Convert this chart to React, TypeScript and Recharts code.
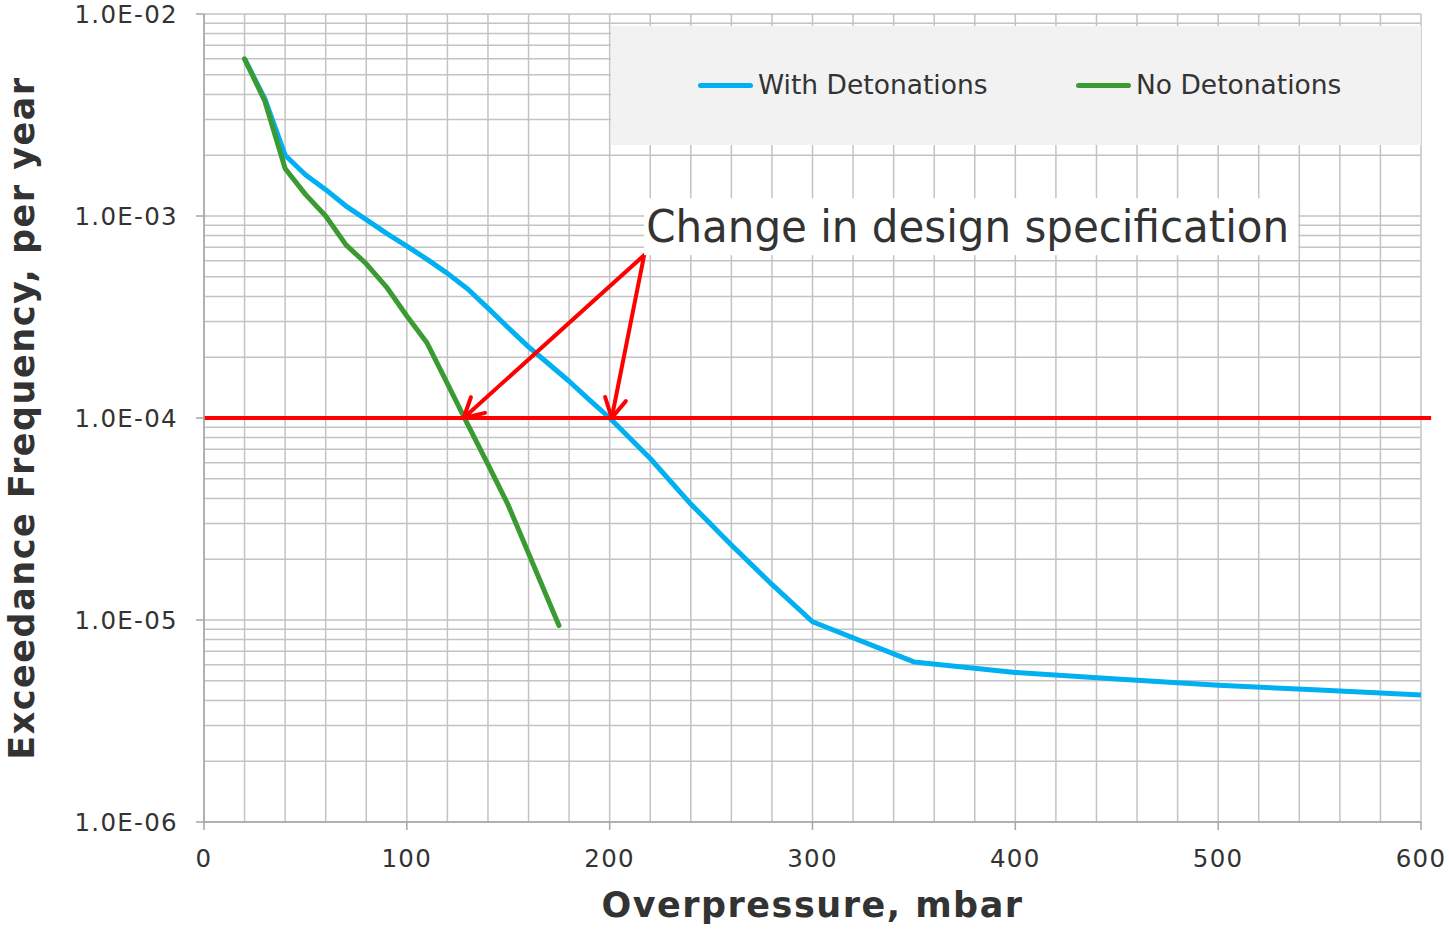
import { CartesianGrid, Legend, Line, LineChart, ReferenceDot, ReferenceLine, XAxis, YAxis } from "recharts";

// overpressure (mbar) and exceedance frequency (per year)
const pressureWith = [20, 30, 40, 50, 60, 70, 80, 90, 100, 110, 120, 130, 140, 150, 160, 170, 180, 190, 200, 220, 240, 260, 280, 300, 350, 400, 450, 500, 550, 600];
const freqWith = [6.0e-3, 3.8e-3, 2.0e-3, 1.6e-3, 1.35e-3, 1.12e-3, 9.6e-4, 8.2e-4, 7.1e-4, 6.1e-4, 5.2e-4, 4.35e-4, 3.5e-4, 2.8e-4, 2.25e-4, 1.85e-4, 1.52e-4, 1.23e-4, 1.0e-4, 6.3e-5, 3.75e-5, 2.35e-5, 1.5e-5, 9.8e-6, 6.2e-6, 5.5e-6, 5.1e-6, 4.75e-6, 4.5e-6, 4.25e-6];

const pressureNo = [20, 30, 40, 50, 60, 70, 80, 90, 100, 110, 120, 130, 140, 150, 175];
const freqNo = [6.0e-3, 3.7e-3, 1.72e-3, 1.28e-3, 1.0e-3, 7.2e-4, 5.8e-4, 4.45e-4, 3.2e-4, 2.35e-4, 1.48e-4, 9.3e-5, 5.9e-5, 3.7e-5, 9.4e-6];

const seriesNames = ["With Detonations", "No Detonations"];
const seriesColors = ["#00b0f0", "#3b9b33"];

const xTicks = [0, 100, 200, 300, 400, 500, 600];
const yTicks = [1e-6, 1e-5, 1e-4, 1e-3, 1e-2];

const designLimit = 1e-4;
const limitEnd = 605;
const calloutAt = { x: 217, y: 6.4e-4 };
const arrowTips = [128, 201];
const calloutText = "Change in design specification";

const xGrid: number[] = [];
for (let v = 0; v <= 600; v += 20) xGrid.push(v);
const yGrid: number[] = [];
for (let e = -6; e < -2; e++) for (let k = 1; k <= 9; k++) yGrid.push(Number((k * Math.pow(10, e)).toPrecision(2)));
yGrid.push(1e-2);

const withData = pressureWith.map((x, i) => ({ x, y: freqWith[i] }));
const noData = pressureNo.map((x, i) => ({ x, y: freqNo[i] }));

const TEXT = "#333333";
const AXIS = "#a6a6a6";
const FONT = "'DejaVu Sans', Verdana";

const fmtExp = (v: number) => {
  const e = Math.round(Math.log10(v));
  const m = v / Math.pow(10, e);
  const s = e < 0 ? "-" : "+";
  return `${m.toFixed(1)}E${s}${String(Math.abs(e)).padStart(2, "0")}`;
};

const arrowShape = (p: any) => {
  const { x1, y1, x2, y2 } = p;
  const a = Math.atan2(y2 - y1, x2 - x1);
  const len = 22;
  const spread = 0.5;
  const w1 = [x2 - len * Math.cos(a - spread), y2 - len * Math.sin(a - spread)];
  const w2 = [x2 - len * Math.cos(a + spread), y2 - len * Math.sin(a + spread)];
  return (
    <g stroke="#ff0000" strokeWidth={4} fill="none" strokeLinecap="round">
      <line x1={x1} y1={y1} x2={x2} y2={y2} />
      <polyline points={`${w1[0]},${w1[1]} ${x2},${y2} ${w2[0]},${w2[1]}`} strokeLinejoin="round" />
    </g>
  );
};

const calloutShape = (p: any) => {
  const { cx, cy } = p;
  return (
    <g>
      <rect x={cx} y={cy - 57} width={654} height={57} fill="#ffffff" />
      <text x={cx + 2} y={cy - 13} fill={TEXT} fontSize={44} fontFamily="'DejaVu Sans Condensed', 'DejaVu Sans'" textLength={643} lengthAdjust="spacingAndGlyphs">
        {calloutText}
      </text>
    </g>
  );
};

const renderLegend = () => (
  <div style={{ position: "relative", width: 810, height: 119, background: "#f2f2f2" }}>
    {seriesNames.map((name, i) => (
      <div key={name} style={{ position: "absolute", left: i === 0 ? 87 : 465, top: 43, height: 32, display: "flex", alignItems: "center" }}>
        <div style={{ width: 55, height: 5, borderRadius: 3, background: seriesColors[i], marginRight: 5 }} />
        <span style={{ fontFamily: FONT, fontSize: 26.5, color: TEXT, whiteSpace: "nowrap", lineHeight: "32px" }}>{name}</span>
      </div>
    ))}
  </div>
);

const tickStyle = { fill: TEXT, fontSize: 24.5, fontFamily: FONT, letterSpacing: 1.3 };
const titleStyle = { fill: TEXT, fontSize: 35, fontWeight: 700, fontFamily: FONT, letterSpacing: 1.5 };

export default function App() {
  return (
    <div style={{ position: "absolute", left: 0, top: 0, background: "#fff" }}>
      <LineChart width={1449} height={929} margin={{ top: 14, right: 28, left: 0, bottom: 0 }}>
        <CartesianGrid stroke="#c3c3c3" strokeWidth={1.5} horizontalValues={yGrid} verticalValues={xGrid} />
        <XAxis
          type="number"
          dataKey="x"
          domain={[0, 600]}
          ticks={xTicks}
          interval={0}
          height={107}
          tickSize={8}
          tickMargin={20}
          stroke={AXIS}
          strokeWidth={1.5}
          tick={tickStyle}
          label={{ value: "Overpressure, mbar", position: "insideBottom", offset: 12, style: titleStyle }}
        />
        <YAxis
          type="number"
          scale="log"
          domain={[1e-6, 1e-2]}
          ticks={yTicks}
          interval={0}
          width={204}
          tickSize={8}
          tickMargin={18}
          stroke={AXIS}
          strokeWidth={1.5}
          tickFormatter={fmtExp}
          tick={tickStyle}
          label={{ value: "Exceedance Frequency, per year", angle: -90, position: "insideLeft", offset: 22, style: { ...titleStyle, textAnchor: "middle" } }}
        />
        <Legend layout="horizontal" verticalAlign="middle" align="center" content={renderLegend} wrapperStyle={{ left: 611, top: 26, width: 810, height: 119 }} />
        <Line data={withData} dataKey="y" name={seriesNames[0]} stroke={seriesColors[0]} strokeWidth={5} dot={false} isAnimationActive={false} strokeLinejoin="round" />
        <Line data={noData} dataKey="y" name={seriesNames[1]} stroke={seriesColors[1]} strokeWidth={5} dot={false} isAnimationActive={false} strokeLinejoin="round" strokeLinecap="round" />
        <ReferenceLine segment={[{ x: 0, y: designLimit }, { x: limitEnd, y: designLimit }]} stroke="#ff0000" strokeWidth={4} ifOverflow="visible" />
        {arrowTips.map((t) => (
          <ReferenceLine key={t} segment={[calloutAt, { x: t, y: designLimit }]} shape={arrowShape} ifOverflow="visible" />
        ))}
        <ReferenceDot x={calloutAt.x} y={calloutAt.y} r={0} shape={calloutShape} ifOverflow="visible" />
      </LineChart>
    </div>
  );
}
